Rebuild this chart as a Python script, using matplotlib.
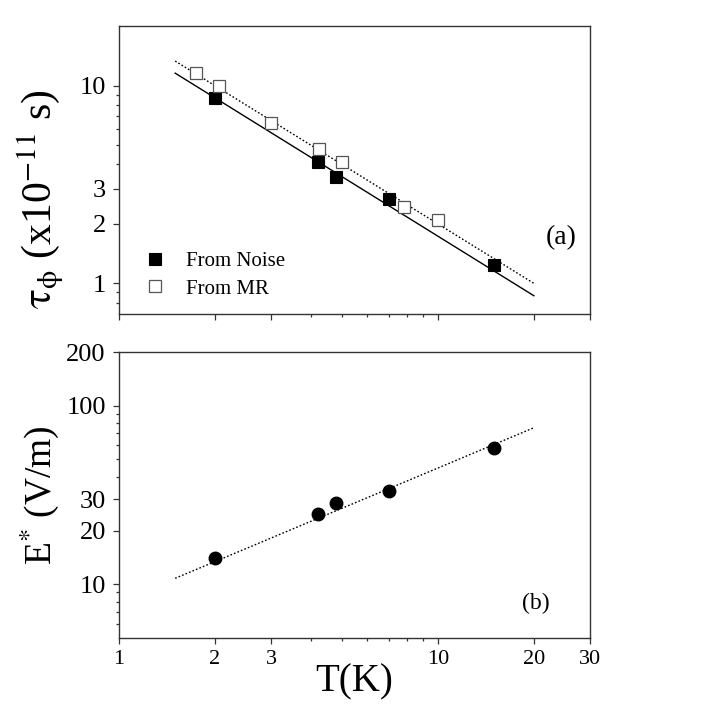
import matplotlib
matplotlib.use("Agg")
import matplotlib.pyplot as plt
from matplotlib.ticker import FixedLocator, FixedFormatter, NullFormatter

# ---- data ----
T_noise = [2.0, 4.2, 4.8, 7.0, 15.0]
tau_noise = [8.6, 4.1, 3.45, 2.67, 1.24]
T_mr = [1.74, 2.06, 3.0, 4.23, 5.0, 7.85, 10.0]
tau_mr = [11.6, 9.95, 6.45, 4.8, 4.1, 2.44, 2.09]
fit_T = [1.5, 20.0]
fit_tau_noise = [11.55, 0.866]
fit_tau_mr = [13.3, 1.0]

T_E = [2.0, 4.2, 4.8, 7.0, 15.0]
E_star = [14.1, 24.9, 28.7, 33.1, 58.0]
fit_E = [10.8, 75.3]

x_major = [1, 2, 3, 10, 20, 30]
x_minor = [4, 5, 6, 7, 8, 9]
ya_major = [1, 2, 3, 10]
ya_minor = [0.8, 0.9, 4, 5, 6, 7, 8, 9]
yb_major = [10, 20, 30, 100, 200]
yb_minor = [6, 7, 8, 9, 40, 50, 60, 70, 80, 90]

plt.rcParams['font.family'] = ['Liberation Serif', 'DejaVu Serif']
plt.rcParams['mathtext.fontset'] = 'stix'

fig = plt.figure(figsize=(7.08, 7.06), dpi=100)
ax1 = fig.add_axes([0.1681, 0.5552, 0.6653, 0.4080])
ax2 = fig.add_axes([0.1681, 0.0963, 0.6653, 0.4051])

spine_col = '#333333'
for ax in (ax1, ax2):
    ax.set_xscale('log')
    ax.set_yscale('log')
    ax.set_xlim(1, 30)
    for s in ax.spines.values():
        s.set_linewidth(1.0)
        s.set_color(spine_col)
    ax.xaxis.set_major_locator(FixedLocator(x_major))
    ax.xaxis.set_minor_locator(FixedLocator(x_minor))
    ax.xaxis.set_minor_formatter(NullFormatter())
    ax.yaxis.set_minor_formatter(NullFormatter())
    ax.tick_params(which='major', direction='out', length=4.5, width=0.9,
                   color=spine_col, top=False, right=False)
    ax.tick_params(which='minor', direction='out', length=2.5, width=0.9,
                   color=spine_col, top=False, right=False)
    ax.tick_params(axis='y', labelsize=19, pad=5)
    ax.tick_params(axis='x', labelsize=16, pad=4)

# panel (a)
ax1.set_ylim(0.7, 20)
ax1.yaxis.set_major_locator(FixedLocator(ya_major))
ax1.yaxis.set_major_formatter(FixedFormatter([str(v) for v in ya_major]))
ax1.yaxis.set_minor_locator(FixedLocator(ya_minor))
ax1.xaxis.set_major_formatter(NullFormatter())

ax1.plot(fit_T, fit_tau_noise, color='black', lw=1.0, zorder=2)
ax1.plot(fit_T, fit_tau_mr, color='black', lw=1.0, ls=(0, (1.2, 1.5)), zorder=2)
ax1.plot(T_noise, tau_noise, ls='none', marker='s', ms=9.2, mfc='black',
         mec='black', mew=0.8, label='From Noise', zorder=3)
ax1.plot(T_mr, tau_mr, ls='none', marker='s', ms=8.4, mfc='white',
         mec='#555555', mew=0.9, label='From MR', zorder=3)
ax1.legend(loc='lower left', bbox_to_anchor=(0.015, -0.012), frameon=False,
           fontsize=15, handlelength=1.0, handletextpad=1.0, labelspacing=0.4,
           borderaxespad=0.5)
ax1.text(0.972, 0.265, '(a)', transform=ax1.transAxes, fontsize=20,
         ha='right', va='center')
ax1.set_ylabel(r'$\mathrm{\tau_\phi}$ (x10$^{-11}$ s)', fontsize=30)
ax1.yaxis.set_label_coords(-0.112, 0.40)

# panel (b)
ax2.set_ylim(5, 200)
ax2.yaxis.set_major_locator(FixedLocator(yb_major))
ax2.yaxis.set_major_formatter(FixedFormatter([str(v) for v in yb_major]))
ax2.yaxis.set_minor_locator(FixedLocator(yb_minor))
ax2.xaxis.set_major_formatter(FixedFormatter([str(v) for v in x_major]))

ax2.plot(fit_T, fit_E, color='black', lw=1.0, ls=(0, (1.2, 1.5)), zorder=2)
ax2.plot(T_E, E_star, ls='none', marker='o', ms=9.0, mfc='black',
         mec='black', zorder=3)
ax2.text(0.915, 0.12, '(b)', transform=ax2.transAxes, fontsize=17,
         ha='right', va='center')
ax2.set_ylabel(r'E$^{*}$ (V/m)', fontsize=27, labelpad=4)
ax2.set_xlabel('T(K)', fontsize=28, labelpad=-4)

fig.savefig('out.png', dpi=100)
